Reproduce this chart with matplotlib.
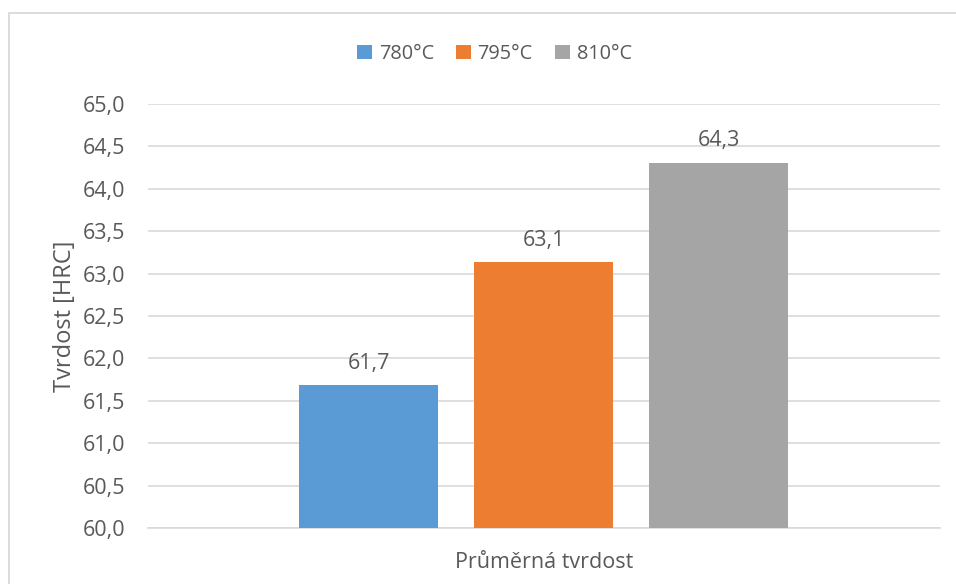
import matplotlib
matplotlib.use("Agg")
import matplotlib.pyplot as plt
from matplotlib.patches import Rectangle

# Data
category = "Průměrná tvrdost"
series = ["780°C", "795°C", "810°C"]
hardness = [61.69, 63.14, 64.31]
colors = ["#5B9BD5", "#ED7D31", "#A5A5A5"]
y_ticks = [60.0, 60.5, 61.0, 61.5, 62.0, 62.5, 63.0, 63.5, 64.0, 64.5, 65.0]

plt.rcParams["font.family"] = ["Open Sans", "DejaVu Sans"]
text_color = "#595959"
fs = 15.5

W, H = 956, 584
fig = plt.figure(figsize=(W / 100, H / 100), dpi=100)
fig.patch.set_facecolor("white")

# chart frame
fig.add_artist(Rectangle((9 / W, -0.1), 1.2, (H - 13) / H + 0.1, transform=fig.transFigure,
                         fill=False, edgecolor="#D9D9D9", linewidth=1.3))

ax = fig.add_axes([148 / W, 1 - 528 / H, (940 - 148) / W, (528 - 104) / H])
ax.set_xlim(0, 792)
ax.set_ylim(60, 65)

bar_w = 139
gap = 36
start = 299 - 148
for i, (name, v, c) in enumerate(zip(series, hardness, colors)):
    x = start + i * (bar_w + gap)
    ax.bar(x, v - 60, bottom=60, width=bar_w, align="edge", color=c, label=name, zorder=3)
    ax.text(x + bar_w / 2, v + 0.13, f"{v:.1f}".replace(".", ","), ha="center", va="bottom",
            fontsize=fs, color=text_color)

ax.set_yticks(y_ticks)
ax.set_yticklabels([f"{t:.1f}".replace(".", ",") for t in y_ticks], fontsize=fs, color=text_color)
ax.set_xticks([396])
ax.set_xticklabels([category], fontsize=fs, color=text_color)
ax.tick_params(axis="y", length=0, pad=16.5)
ax.tick_params(axis="x", length=0, pad=17)
ax.grid(axis="y", color="#D9D9D9", linewidth=1.2, zorder=0)
for s in ["top", "right", "left"]:
    ax.spines[s].set_visible(False)
ax.spines["bottom"].set_color("#D9D9D9")
ax.spines["bottom"].set_linewidth(1.2)

fig.text(65 / W, 1 - 316 / H, "Tvrdost [HRC]", rotation=90, ha="center", va="center",
         fontsize=17, color=text_color)

leg = fig.legend(loc="center", bbox_to_anchor=(0.517, 1 - 54 / H), ncol=3, frameon=False,
                 fontsize=14.3, handlelength=0.75, handleheight=0.75, handletextpad=0.35,
                 columnspacing=1.1, labelcolor=text_color)

fig.savefig("out.png", dpi=100, facecolor="white")
